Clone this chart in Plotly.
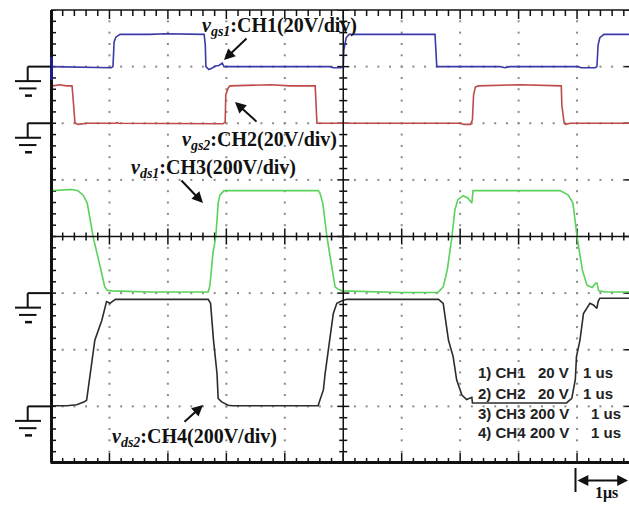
import plotly.graph_objects as go

# ---------------- data (time in divisions, level in divisions) ----------------
ch1_t = [0, 0.84, 0.91, 1.03, 1.06, 1.08, 1.11, 1.18, 1.69, 1.95, 2.62, 2.64, 2.65, 2.70, 2.75,
         2.81, 2.87, 2.93, 2.96, 4.77, 4.83, 4.96, 5.00, 5.01, 5.05, 5.10, 6.57, 6.59, 6.60,
         7.68, 7.77, 7.85, 9.02, 9.07, 9.31, 9.34, 9.36, 9.39, 9.46, 9.89]
ch1_v = [3.00, 2.99, 2.98, 2.98, 3.00, 3.44, 3.52, 3.57, 3.57, 3.58, 3.57, 3.38, 3.00, 2.95, 2.97,
         3.01, 3.02, 3.06, 3.00, 3.00, 2.98, 2.98, 3.00, 3.29, 3.51, 3.57, 3.57, 3.29, 3.00,
         3.00, 2.98, 3.00, 3.00, 2.98, 2.98, 3.00, 3.38, 3.51, 3.57, 3.57]

ch2_t = [0.03, 0.15, 0.26, 0.36, 0.38, 0.41, 0.46, 0.58, 0.62, 1.10, 1.13, 1.16, 2.81, 2.84,
         2.94, 2.98, 2.99, 3.03, 3.06, 3.75, 4.09, 4.52, 4.53, 4.55, 7.01, 7.06, 7.18, 7.21,
         7.23, 7.26, 7.31, 8.02, 8.73, 8.74, 8.78, 8.81, 8.88, 9.89]
ch2_v = [2.66, 2.68, 2.66, 2.66, 2.41, 2.01, 1.98, 1.99, 2.00, 2.00, 2.01, 2.00, 2.00, 1.99,
         1.99, 2.02, 2.50, 2.62, 2.66, 2.68, 2.66, 2.66, 2.32, 2.00, 2.00, 1.98, 1.98, 2.06,
         2.50, 2.64, 2.66, 2.68, 2.66, 2.32, 2.00, 1.98, 2.00, 2.00]

ch3_t = [0, 0.24, 0.36, 0.46, 0.55, 0.62, 0.72, 0.84, 0.92, 0.96, 1.04, 1.69, 2.69, 2.72,
         2.77, 2.82, 2.86, 2.89, 2.96, 3.92, 4.57, 4.60, 4.65, 4.72, 4.81, 4.86, 4.91, 4.98,
         5.97, 6.62, 6.71, 6.78, 6.86, 6.91, 6.96, 7.05, 7.13, 7.20, 7.22, 8.02, 8.71, 8.85,
         8.93, 9.00, 9.09, 9.17, 9.26, 9.32, 9.34, 9.37, 9.48, 9.89]
ch3_v = [0.81, 0.82, 0.83, 0.81, 0.73, 0.59, 0.00, -0.53, -0.89, -0.95, -0.96, -0.98, -0.98, -0.86,
         -0.30, 0.00, 0.59, 0.73, 0.81, 0.81, 0.81, 0.77, 0.59, 0.00, -0.59, -0.89, -0.93, -0.96,
         -0.99, -0.99, -0.89, -0.59, 0.00, 0.47, 0.65, 0.72, 0.68, 0.59, 0.81, 0.81, 0.81, 0.73,
         0.59, 0.00, -0.59, -0.86, -0.90, -0.82, -0.82, -0.96, -0.98, -0.98]

ch4_t = [0, 0.27, 0.44, 0.57, 0.61, 0.67, 0.75, 0.87, 0.95, 1.01, 1.10, 1.87, 2.69, 2.73,
         2.78, 2.84, 2.86, 2.92, 3.03, 3.10, 4.57, 4.60, 4.66, 4.69, 4.77, 4.83, 4.89, 4.97,
         5.06, 6.63, 6.71, 6.80, 6.88, 6.94, 7.03, 7.11, 7.20, 7.21, 8.02, 8.82, 8.91, 8.97,
         8.99, 9.05, 9.11, 9.17, 9.22, 9.28, 9.34, 9.36, 9.39, 9.89]
ch4_v = [-2.99, -2.99, -2.97, -2.92, -2.89, -2.42, -1.83, -1.48, -1.15, -1.18, -1.11, -1.11, -1.11, -1.18,
         -1.83, -2.42, -2.86, -2.92, -2.98, -2.99, -2.99, -2.89, -2.71, -2.42, -1.83, -1.36, -1.18, -1.14,
         -1.11, -1.11, -1.18, -1.83, -2.12, -2.53, -2.80, -2.88, -2.84, -2.94, -2.94, -2.94, -2.86, -2.53,
         -2.12, -1.83, -1.36, -1.27, -1.18, -1.21, -1.27, -1.15, -1.09, -1.09]

ground_levels = [3, 2, -1, -3]
labels = ["<i>v</i><sub><i>gs1</i></sub>:CH1(20V/div)",
          "<i>v</i><sub><i>gs2</i></sub>:CH2(20V/div)",
          "<i>v</i><sub><i>ds1</i></sub>:CH3(200V/div)",
          "<i>v</i><sub><i>ds2</i></sub>:CH4(200V/div)"]
info_ch = ["1) CH1", "2) CH2", "3) CH3", "4) CH4"]
info_volt = ["20 V", "20 V", "200 V", "200 V"]
info_time = ["1 us", "1 us", "1 us", "1 us"]
scale_label = "1μs"

colors = ["#3b3ba8", "#c04a4a", "#5ad25a", "#2c2c2c"]

# ---------------- geometry ----------------
W, H = 629, 507
ML, MT, MB = 51, 10, 44
PW, PH = W - ML, H - MT - MB
PXX = 58.45            # px per horizontal division
PXY = PH / 8.0         # px per vertical division
XMAX = PW / PXX


def px(x):
    return (x - ML) / PW


def py(y):
    return (H - MB - y) / PH


fig = go.Figure()

# dotted graticule
gx, gy = [], []
for k in range(1, 10):
    if k == 5:
        continue
    for i in range(1, 40):
        gx.append(k)
        gy.append(-4 + i * 0.2)
for j in range(-3, 4):
    if j == 0:
        continue
    for i in range(1, 51):
        gx.append(i * 0.2)
        gy.append(j)
fig.add_trace(go.Scatter(x=gx, y=gy, mode="markers", hoverinfo="skip",
                         marker=dict(size=2, color="#8a8a8a", symbol="square", line=dict(width=0))))

# tick marks
tx, ty = [], []


def seg(x0, y0, x1, y1):
    tx.extend([x0, x1, None])
    ty.extend([y0, y1, None])


for i in range(0, 51):
    x = i * 0.2
    major = (i % 5 == 0)
    seg(x, 4, x, 4 - (9 if major else 6) / PXY)
    seg(x, -4, x, -4 + (10 if major else 5) / PXY)
    L = (8 if major else 4) / PXY
    seg(x, -L, x, L)
for i in range(0, 41):
    y = -4 + i * 0.2
    major = (i % 5 == 0)
    seg(0, y, 5 / PXX, y)
    L = (6 if major else 4) / PXX
    seg(5 - L, y, 5 + L, y)
    seg(10, y, 10 - (11 if major else 5) / PXX, y)
fig.add_trace(go.Scatter(x=tx, y=ty, mode="lines", hoverinfo="skip",
                         line=dict(color="#111", width=1.5)))

# waveforms
for t, v, c in [(ch1_t, ch1_v, colors[0]), (ch2_t, ch2_v, colors[1]),
                (ch3_t, ch3_v, colors[2]), (ch4_t, ch4_v, colors[3])]:
    fig.add_trace(go.Scatter(x=t, y=v, mode="lines", hoverinfo="skip",
                             line=dict(color=c, width=1.6)))

shapes = []
shapes.append(dict(type="line", xref="x", yref="paper", x0=5, x1=5, y0=0, y1=1,
                   line=dict(color="#111", width=1.5)))
shapes.append(dict(type="line", xref="paper", yref="y", x0=0, x1=1, y0=0, y1=0,
                   line=dict(color="#111", width=1.5)))
shapes.append(dict(type="line", xref="paper", yref="paper", x0=0, x1=1, y0=1, y1=1,
                   line=dict(color="#111", width=1.5)))
shapes.append(dict(type="line", xref="paper", yref="paper", x0=px(50.5), x1=1, y0=py(462.5), y1=py(462.5),
                   line=dict(color="#111", width=3)))
shapes.append(dict(type="line", xref="paper", yref="paper", x0=px(51.5), x1=px(51.5), y0=py(462.5), y1=1,
                   line=dict(color="#111", width=3)))
shapes.append(dict(type="line", xref="paper", yref="paper", x0=px(51.5), x1=px(51.5), y0=py(57), y1=py(80),
                   line=dict(color="#1c1c8a", width=3)))

for g in ground_levels:
    gyp = 236.5 - g * PXY
    shapes.append(dict(type="line", xref="paper", yref="paper", x0=px(27.7), x1=px(51), y0=py(gyp), y1=py(gyp),
                       line=dict(color="#111", width=2)))
    shapes.append(dict(type="line", xref="paper", yref="paper", x0=px(27.7), x1=px(27.7), y0=py(gyp), y1=py(gyp + 14.5),
                       line=dict(color="#111", width=2)))
    shapes.append(dict(type="line", xref="paper", yref="paper", x0=px(15), x1=px(41), y0=py(gyp + 14.5), y1=py(gyp + 14.5),
                       line=dict(color="#111", width=2)))
    shapes.append(dict(type="line", xref="paper", yref="paper", x0=px(19), x1=px(36.5), y0=py(gyp + 21.8), y1=py(gyp + 21.8),
                       line=dict(color="#111", width=2)))
    shapes.append(dict(type="line", xref="paper", yref="paper", x0=px(25), x1=px(32), y0=py(gyp + 29), y1=py(gyp + 29),
                       line=dict(color="#111", width=2.5)))

shapes.append(dict(type="line", xref="paper", yref="paper", x0=px(575.5), x1=px(575.5), y0=py(468), y1=py(492),
                   line=dict(color="#111", width=2)))

ann = []
label_pos = [(200, 27), (180, 140), (129, 168), (110, 437)]
for (x, y), txt in zip(label_pos, labels):
    ann.append(dict(text=txt, xref="paper", yref="paper", x=px(x), y=py(y), xanchor="left", yanchor="middle",
                    showarrow=False, font=dict(family="Liberation Serif", size=20, color="#111", weight="bold")))

arrows = [((248, 37), (224, 60)), ((258, 123), (235, 102)), ((180, 179), (203, 203)), ((183, 423), (203, 405))]
for (tx0, ty0), (hx, hy) in arrows:
    ann.append(dict(text="", xref="paper", yref="paper", x=px(hx), y=py(hy), ax=tx0 - hx, ay=ty0 - hy,
                    showarrow=True, arrowhead=2, arrowsize=1.1, arrowwidth=2, arrowcolor="#111", standoff=0))

rows_y = [372, 393.5, 413.5, 432.5]
time_right = [615, 615, 623, 623]
for i, y in enumerate(rows_y):
    f = dict(family="Liberation Sans", size=15, color="#222", weight="bold")
    ann.append(dict(text=info_ch[i], xref="paper", yref="paper", x=px(476), y=py(y), xanchor="left",
                    yanchor="middle", showarrow=False, font=f))
    ann.append(dict(text=info_volt[i], xref="paper", yref="paper", x=px(571), y=py(y), xanchor="right",
                    yanchor="middle", showarrow=False, font=f))
    ann.append(dict(text=info_time[i], xref="paper", yref="paper", x=px(time_right[i]), y=py(y), xanchor="right",
                    yanchor="middle", showarrow=False, font=f))

ann.append(dict(text="", xref="paper", yref="paper", x=px(628), y=py(480.5), ax=576 - 628, ay=0,
                showarrow=True, arrowhead=2, arrowside="end+start", arrowsize=1.2, arrowwidth=1.8,
                arrowcolor="#111", standoff=0, startstandoff=0))
ann.append(dict(text=scale_label, xref="paper", yref="paper", x=px(606), y=py(493), xanchor="center",
                yanchor="middle", showarrow=False,
                font=dict(family="Liberation Serif", size=16, color="#111", weight="bold")))

fig.update_layout(
    width=W, height=H, margin=dict(l=ML, r=0, t=MT, b=MB, pad=0),
    paper_bgcolor="white", plot_bgcolor="white", showlegend=False,
    xaxis=dict(range=[0, XMAX], visible=False, fixedrange=True),
    yaxis=dict(range=[-4, 4], visible=False, fixedrange=True),
    shapes=shapes, annotations=ann,
)

fig.write_html("out.html")
